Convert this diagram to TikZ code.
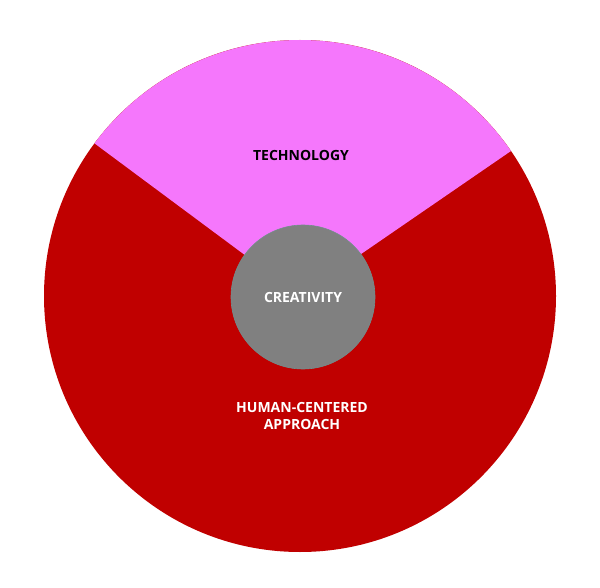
\documentclass[tikz,border=0pt]{standalone}
\usepackage{fontspec}
\setmainfont{Open Sans}
\definecolor{redc}{RGB}{192,0,0}
\definecolor{pinkc}{RGB}{245,119,252}
\definecolor{grayc}{RGB}{128,128,128}
\tikzset{
  lab/.style={font=\bfseries\fontsize{14}{17.5}\selectfont, align=center, inner sep=0pt},
}
\begin{document}
\begin{tikzpicture}[x=1pt,y=-1pt]
\useasboundingbox[fill=white] (0,0) rectangle (600,588);
\coordinate (o) at (300,296);
\fill[redc] (o) circle[radius=256];
\fill[pinkc] (o) -- ++(-34.5:256) arc[start angle=-34.5, end angle=-143.4, radius=256] -- cycle;
\node[circle, fill=grayc, draw=grayc!90!cyan, line width=0.6pt, minimum size=144pt, inner sep=0pt] (crea) at (303,297) {};
\node[lab, text=white] (crealab) at (crea.center) {CREATIVITY};
\node[lab, text=black] (tech) at (301,155) {TECHNOLOGY};
\node[lab, text=white] (human) at (302,416) {HUMAN-CENTERED\\APPROACH};
\end{tikzpicture}
\end{document}
